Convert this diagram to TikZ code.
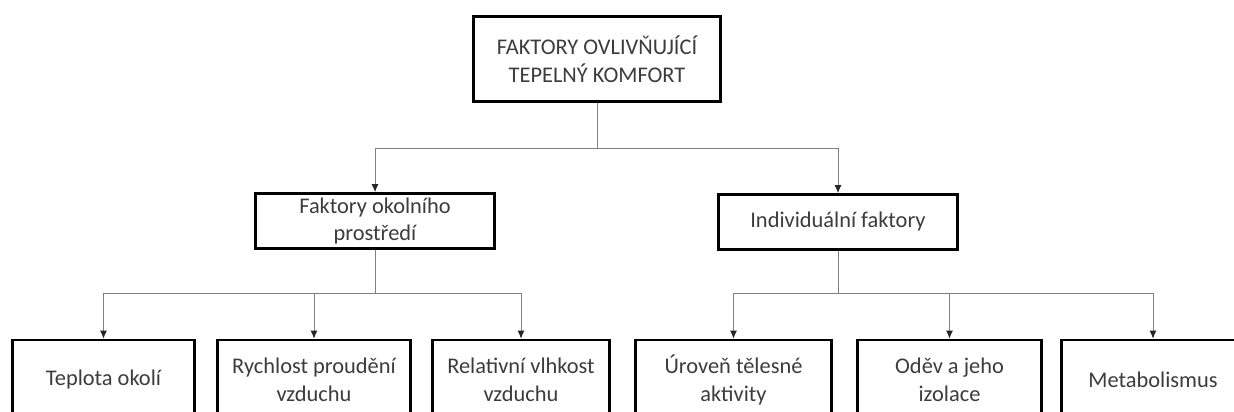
\documentclass[tikz,border=0pt]{standalone}
\usepackage{fontspec}
\setmainfont{Carlito}
\usetikzlibrary{arrows.meta,positioning,calc}
\usepackage{xcolor}
\definecolor{conn}{HTML}{808080}
\definecolor{txt}{HTML}{3C3C3C}

\begin{document}
\begin{tikzpicture}[
  x=1pt, y=-1pt,
  every node/.style={font=\fontsize{22.4}{27.5}\selectfont, text=txt},
  box/.style={draw=black, line width=2.6pt, align=center, inner sep=0pt},
  topbox/.style={box, minimum width=247pt, minimum height=85pt},
  midbox/.style={box, minimum width=239pt, minimum height=55pt},
  leaf/.style={box, minimum height=80pt},
  line/.style={line width=1pt, color=conn},
  arr/.style={line, -{Latex[length=8pt, width=7pt, color=black!85]}},
]
\useasboundingbox (0,0) rectangle (1234,412);
\clip (0,0) rectangle (1234,412);

%% Top: main topic
\node[topbox] (comfort) at (597,59) {FAKTORY OVLIVŇUJÍCÍ\\TEPELNÝ KOMFORT};

%% Middle: two groups of factors
\node[midbox] (envf) at (375,221) {Faktory okolního\\prostředí};
\node[midbox] (indf) at (838,222) {Individuální faktory};

%% Bottom: single factors
\node[leaf, minimum width=182pt] (temp)   at (103.5,380) {Teplota okolí};
\node[leaf, minimum width=193pt] (airspd) at (314,380)   {Rychlost proudění\\vzduchu};
\node[leaf, minimum width=177pt] (humid)  at (521,380)   {Relativní vlhkost\\vzduchu};
\node[leaf, minimum width=196pt] (activ)  at (733.5,380) {Úroveň tělesné\\aktivity};
\node[leaf, minimum width=184pt] (cloth)  at (949.5,380) {Oděv a jeho\\izolace};
\node[leaf, minimum width=183pt] (metab)  at (1153,380)  {Metabolismus};

%% Junctions
\coordinate (j0) at ($(comfort.south)+(0,46)$);
\coordinate (j1) at ($(envf.south)+(0,44)$);
\coordinate (j2) at ($(indf.south)+(0,43)$);

%% Arrows
\draw[line] (comfort) -- (j0);
\draw[arr] (j0) -| (envf.north);
\draw[arr] (j0) -| (indf.north);
\draw[line] (envf) -- (j1);
\draw[arr] (j1) -| (temp.north);
\draw[arr] (j1) -| (airspd.north);
\draw[arr] (j1) -| (humid.north);
\draw[line] (indf) -- (j2);
\draw[arr] (j2) -| (activ.north);
\draw[arr] (j2) -| (cloth.north);
\draw[arr] (j2) -| (metab.north);

\end{tikzpicture}
\end{document}
